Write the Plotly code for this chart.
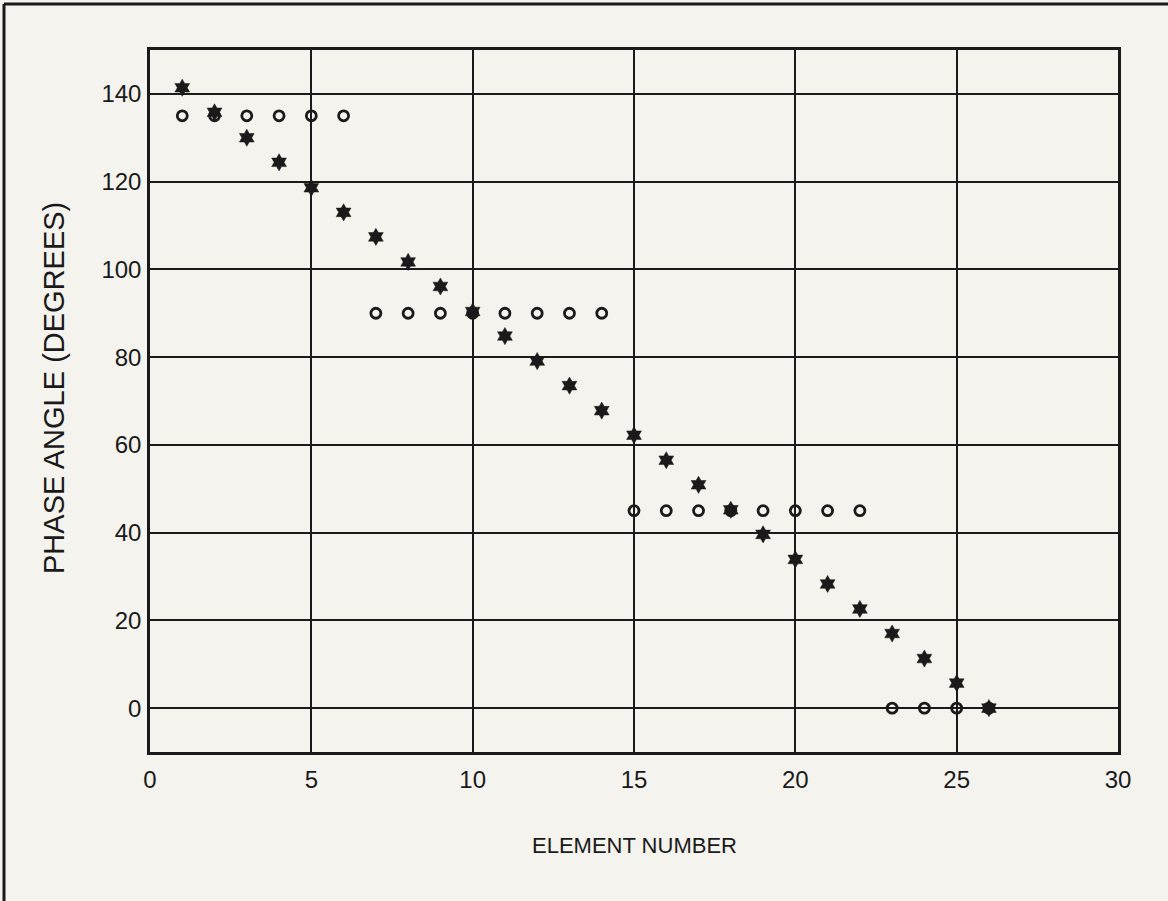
import plotly.graph_objects as go

elements = list(range(1, 27))
computed_phase = [141.4, 135.8, 130.0, 124.4, 118.6, 113.0, 107.4, 101.7, 96.1, 90.4,
                  84.8, 79.1, 73.5, 67.8, 62.2, 56.5, 50.9, 45.2, 39.6, 33.9,
                  28.3, 22.6, 17.0, 11.3, 5.7, 0.0]
quantized_phase = [135, 135, 135, 135, 135, 135, 90, 90, 90, 90, 90, 90, 90, 90,
                   45, 45, 45, 45, 45, 45, 45, 45, 0, 0, 0, 0]
x_ticks = [0, 5, 10, 15, 20, 25, 30]
y_ticks = [0, 20, 40, 60, 80, 100, 120, 140]

FONT = "Liberation Sans, Arial, sans-serif"
BG = "#f4f3ee"
INK = "#1a1a1a"

fig = go.Figure()
fig.add_trace(go.Scatter(
    x=elements, y=quantized_phase, mode="markers",
    marker=dict(symbol="circle-open", size=10, color=INK, line=dict(width=2.8, color=INK)),
    showlegend=False))
fig.add_trace(go.Scatter(
    x=elements, y=computed_phase, mode="markers",
    marker=dict(symbol="hexagram", size=13, color=INK, line=dict(width=0.5, color=INK)),
    showlegend=False))

L, R, T, B = 150, 50, 50, 149
W, H = 1168, 901
pw, ph = W - L - R, H - T - B

axis_common = dict(ticks="", showgrid=True, gridcolor=INK, gridwidth=2,
                   showline=True, linecolor=INK, linewidth=2.5, mirror=True,
                   zeroline=False, tickfont=dict(size=24, family=FONT, color=INK))

fig.update_layout(
    width=W, height=H,
    margin=dict(l=L, r=R, t=T, b=B),
    paper_bgcolor=BG, plot_bgcolor=BG,
    font=dict(family=FONT, color=INK),
    xaxis=dict(range=[0, 30], tickvals=x_ticks, ticklabelstandoff=4, **axis_common),
    yaxis=dict(range=[-10, 150], tickvals=y_ticks, ticklabelstandoff=1, **axis_common),
    annotations=[
        dict(text="ELEMENT NUMBER", xref="paper", yref="paper", x=(634 - L) / pw,
             y=(H - B - 845) / ph, showarrow=False, xanchor="center", yanchor="middle",
             font=dict(size=22, family=FONT, color=INK)),
        dict(text="PHASE ANGLE (DEGREES)", xref="paper", yref="paper",
             x=(54 - L) / pw, y=(H - B - 388) / ph, textangle=-90, showarrow=False,
             xanchor="center", yanchor="middle", font=dict(size=29, family=FONT, color=INK)),
    ],
    shapes=[
        dict(type="line", xref="paper", yref="paper", x0=(4 - L) / pw, x1=(4 - L) / pw,
             y0=(H - B - 4) / ph, y1=-0.3, line=dict(color=INK, width=3)),
        dict(type="line", xref="paper", yref="paper", x0=(4 - L) / pw, x1=1.1,
             y0=(H - B - 4) / ph, y1=(H - B - 4) / ph, line=dict(color=INK, width=3)),
    ],
)

fig.write_html("out.html", config={"displayModeBar": False},
               post_script="document.body.style.margin='0';document.body.style.background='" + BG + "';")
